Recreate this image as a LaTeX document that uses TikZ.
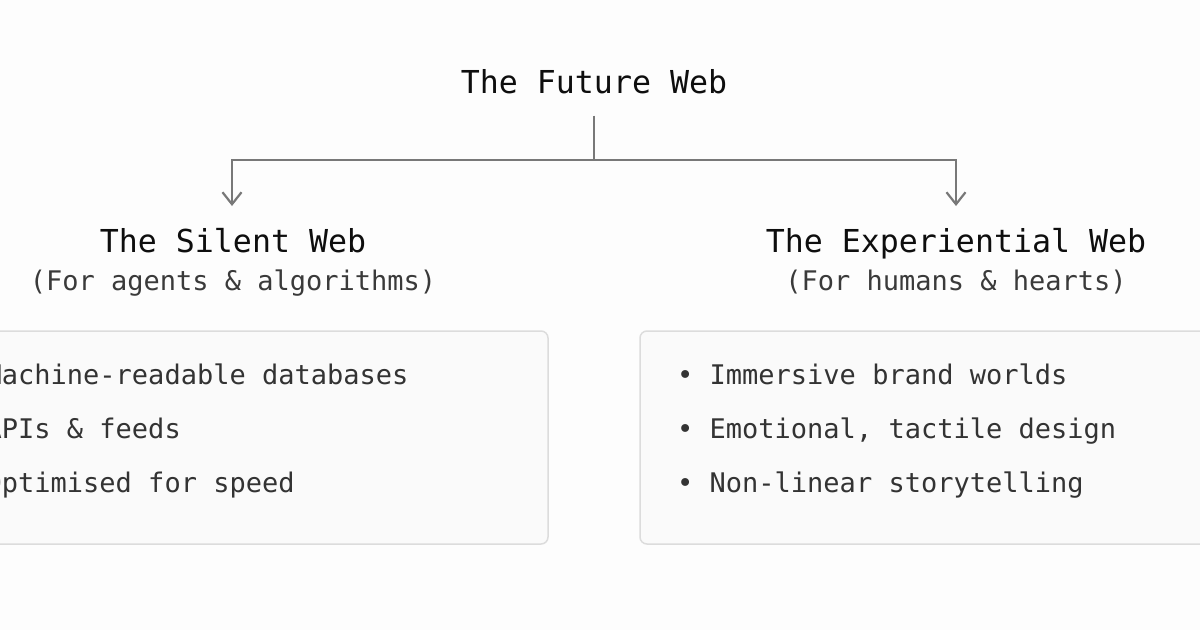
\documentclass[tikz,border=0pt]{standalone}
\usepackage{fontspec}
\setmonofont{DejaVu Sans Mono}
\usetikzlibrary{arrows.meta}
\definecolor{bgc}{HTML}{FDFDFD}
\definecolor{boxfill}{HTML}{FAFAFA}
\definecolor{boxline}{HTML}{DCDCDC}
\definecolor{conncol}{HTML}{787878}
\definecolor{headcol}{HTML}{0E0E0E}
\definecolor{subcol}{HTML}{3A3A3A}
\definecolor{itemcol}{HTML}{333333}
\tikzset{
  headtext/.style={inner sep=0pt, anchor=base, text=headcol, font=\ttfamily\fontsize{31.6}{38}\selectfont},
  subtext/.style={inner sep=0pt, anchor=base, text=subcol, font=\ttfamily\fontsize{27}{32}\selectfont},
  itemtext/.style={inner sep=0pt, anchor=base west, text=itemcol, font=\ttfamily\fontsize{27}{32}\selectfont},
  panel/.style={draw=boxline, fill=boxfill, line width=1.5pt, rounded corners=7pt, minimum width=632pt, minimum height=213pt, inner sep=0pt},
  conn/.style={draw=conncol, line width=2.2pt},
  connarrow/.style={conn, -{Straight Barb[length=12pt,width=19pt]}}
}
\begin{document}
\begin{tikzpicture}[x=1pt,y=-1pt]
\useasboundingbox (0,0) rectangle (1200,630);
\clip (0,0) rectangle (1200,630);
\fill[bgc] (0,0) rectangle (1200,630);

% title and headings
\node[headtext] (root) at (594,93) {The Future Web};
\node[headtext] (silent) at (233,252) {The Silent Web};
\node[subtext] (silentsub) at (233,290) {(For agents \& algorithms)};
\node[headtext] (exper) at (956,252) {The Experiential Web};
\node[subtext] (expersub) at (956,290) {(For humans \& hearts)};

% panels
\node[panel] (lbox) at (232,437.5) {};
\node[panel] (rbox) at (956,437.5) {};

% items
\node[itemtext] (l1) at (-47,384) {• Machine-readable databases};
\node[itemtext] (l2) at (-47,438) {• APIs \& feeds};
\node[itemtext] (l3) at (-47,492) {• Optimised for speed};
\node[itemtext] (r1) at (677,384) {• Immersive brand worlds};
\node[itemtext] (r2) at (677,438) {• Emotional, tactile design};
\node[itemtext] (r3) at (677,492) {• Non-linear storytelling};

% connectors
\coordinate (fork) at (594,160);
\coordinate (lend) at (232,206);
\coordinate (rend) at (956,206);
\draw[conn] (root.south) ++(0,22) -- (fork);
\draw[connarrow] (fork) -| (lend);
\draw[connarrow] (fork) -| (rend);
\end{tikzpicture}
\end{document}
